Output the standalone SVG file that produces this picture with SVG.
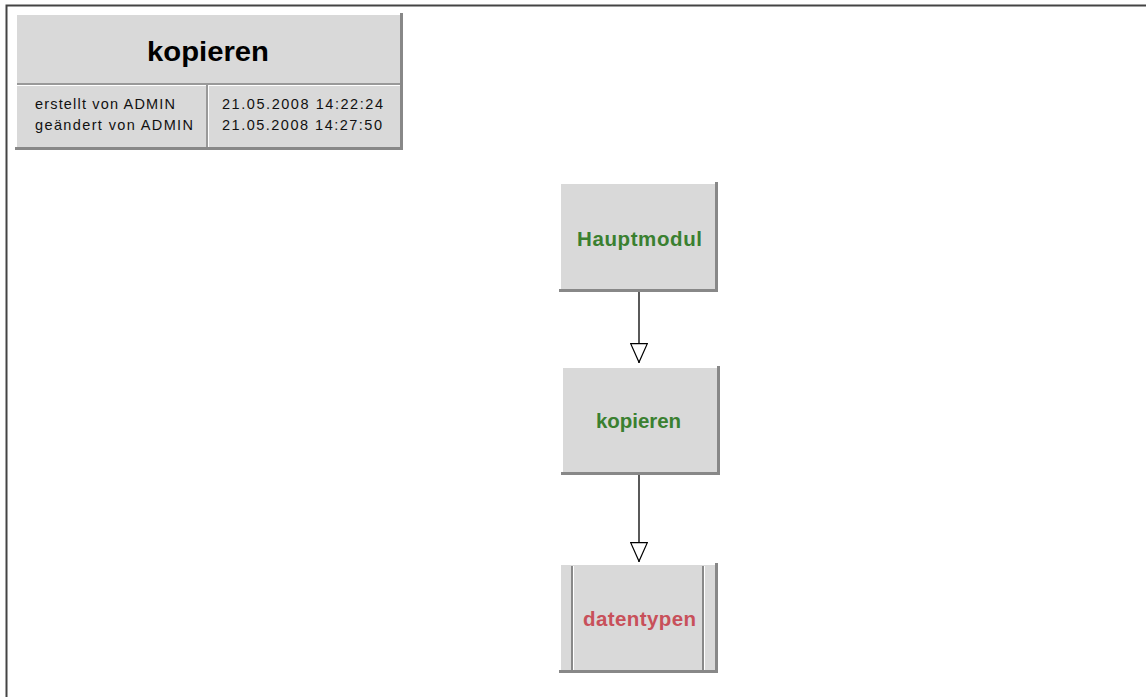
<svg xmlns="http://www.w3.org/2000/svg" width="1146" height="697" viewBox="0 0 1146 697">
<style>
.face{fill:#d9d9d9}
.hi{fill:#ffffff}
.sh{fill:#888888}
.lbl{font-family:"Liberation Sans",Arial,sans-serif;font-weight:bold;font-size:20.5px}
.green{fill:#3a8030}
.red{fill:#c8505a}
.small{font-family:"Liberation Sans",Arial,sans-serif;font-size:14.5px;fill:#111}
.edge{stroke:#000;stroke-width:1.3;fill:none}
</style>
<defs>
<marker id="tri" viewBox="0 0 20 18" refX="20" refY="9" markerWidth="20" markerHeight="18" markerUnits="userSpaceOnUse" orient="auto">
<path d="M0.7,0.7 L0.7,17.3 L19.3,9 Z" fill="#fff" stroke="#000" stroke-width="1.2"/>
</marker>
</defs>
<rect width="1146" height="697" fill="#fff"/>
<path d="M6.5,697 L6.5,5.5 L1146,5.5" fill="none" stroke="#444" stroke-width="2"/>
<g id="header">
<rect class="sh" x="15" y="13" width="388" height="137"/>
<rect class="hi" x="15" y="13" width="385" height="134"/>
<rect class="face" x="17" y="15" width="383" height="132"/>
<rect x="17" y="83" width="383" height="2" fill="#999"/>
<rect x="17" y="85" width="383" height="1" fill="#fff"/>
<rect x="206" y="85" width="2" height="62" fill="#999"/>
<rect x="208" y="85" width="1" height="62" fill="#fff"/>
<text x="147" y="61" font-family="&quot;Liberation Sans&quot;,Arial,sans-serif" font-weight="bold" font-size="28" fill="#000" textLength="122" lengthAdjust="spacingAndGlyphs">kopieren</text>
<text class="small" x="35" y="109" textLength="140" lengthAdjust="spacing">erstellt von ADMIN</text>
<text class="small" x="35" y="130" textLength="158" lengthAdjust="spacing">geändert von ADMIN</text>
<text class="small" x="222" y="109" textLength="161" lengthAdjust="spacing">21.05.2008 14:22:24</text>
<text class="small" x="222" y="130" textLength="160" lengthAdjust="spacing">21.05.2008 14:27:50</text>
</g>
<g id="connectors">
<line class="edge" x1="639" y1="292" x2="639" y2="363" marker-end="url(#tri)"/>
<line class="edge" x1="639" y1="475" x2="639" y2="562" marker-end="url(#tri)"/>
</g>
<g id="node-hauptmodul">
<rect class="sh" x="559" y="182" width="159" height="110"/>
<rect class="hi" x="559" y="182" width="156" height="107"/>
<rect class="face" x="561" y="184" width="154" height="105"/>
<text class="lbl green" x="577" y="246" textLength="125" lengthAdjust="spacing">Hauptmodul</text>
</g>
<g id="node-kopieren">
<rect class="sh" x="561" y="366" width="159" height="109"/>
<rect class="hi" x="561" y="366" width="156" height="106"/>
<rect class="face" x="563" y="368" width="154" height="104"/>
<text class="lbl green" x="596" y="428" textLength="85" lengthAdjust="spacing">kopieren</text>
</g>
<g id="node-datentypen">
<rect class="sh" x="559" y="563" width="159" height="110"/>
<rect class="hi" x="559" y="563" width="156" height="107"/>
<rect class="face" x="561" y="565" width="154" height="105"/>
<rect x="571" y="566" width="2" height="104" fill="#888"/>
<rect x="573" y="566" width="1" height="104" fill="#fff"/>
<rect x="702" y="566" width="2" height="104" fill="#888"/>
<rect x="704" y="566" width="1" height="104" fill="#fff"/>
<text class="lbl red" x="583" y="626" textLength="113" lengthAdjust="spacing">datentypen</text>
</g>
</svg>
